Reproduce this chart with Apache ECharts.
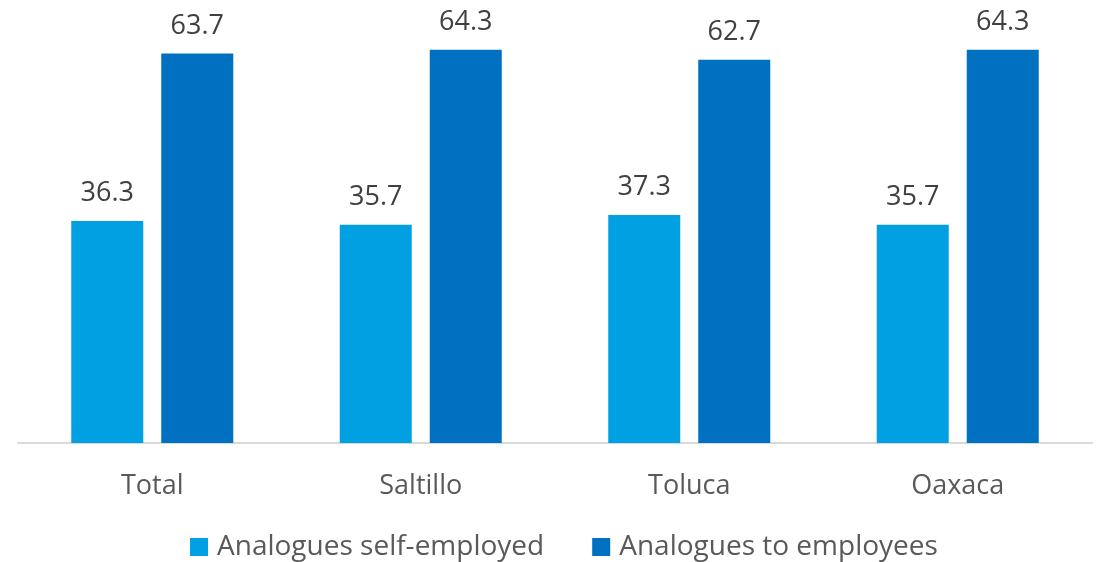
<!DOCTYPE html>
<html><head><meta charset="utf-8">
<script src="https://cdn.jsdelivr.net/npm/echarts@6/dist/echarts.min.js"></script>
<style>html,body{margin:0;padding:0;background:#fff}#c{width:1097px;height:562px}</style>
</head><body><div id="c"></div>
<script>
const categories = ['Total', 'Saltillo', 'Toluca', 'Oaxaca'];
const selfEmployed = [36.3, 35.7, 37.3, 35.7];
const toEmployees = [63.7, 64.3, 62.7, 64.3];
const seriesNames = ['Analogues self-employed', 'Analogues to employees'];

const FONT = 'Open Sans';
const chart = echarts.init(document.getElementById('c'));
const label = {show: true, position: 'top', distance: 14, color: '#404040', fontSize: 27, fontFamily: FONT, formatter: p => p.value.toFixed(1)};
chart.setOption({
  animation: false,
  grid: {left: 18, right: 5, top: 15, bottom: 119, containLabel: false},
  legend: {
    bottom: -4, left: 185, itemWidth: 18, itemHeight: 18, itemGap: 48,
    icon: 'rect',
    textStyle: {color: '#595959', fontSize: 28, fontFamily: FONT, padding: [0, 0, 0, 4]},
    data: seriesNames
  },
  xAxis: {
    type: 'category', data: categories,
    axisLine: {lineStyle: {color: '#d9d9d9', width: 2}},
    axisTick: {show: false},
    axisLabel: {color: '#595959', fontSize: 27, fontFamily: FONT, margin: 30}
  },
  yAxis: {type: 'value', min: 0, max: 70, show: false, splitLine: {show: false}},
  series: [
    {name: seriesNames[0], type: 'bar', data: selfEmployed, barWidth: 72, barGap: '25%', itemStyle: {color: '#00a0e3'}, label},
    {name: seriesNames[1], type: 'bar', data: toEmployees, barWidth: 72, itemStyle: {color: '#0070c0'}, label}
  ]
});
</script></body></html>
